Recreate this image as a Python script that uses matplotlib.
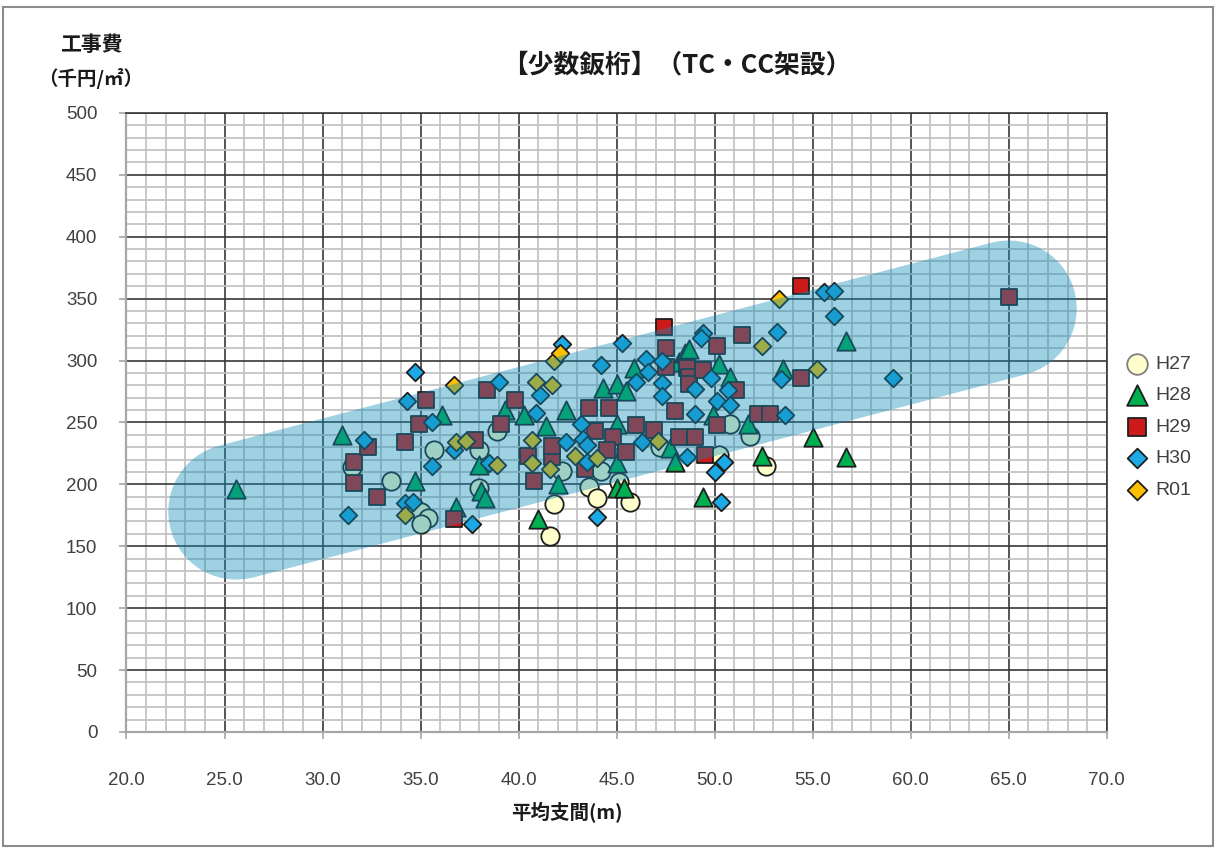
import matplotlib
matplotlib.use('Agg')
import matplotlib.pyplot as plt
from matplotlib.ticker import MultipleLocator, FormatStrFormatter
from matplotlib.patches import Rectangle
from matplotlib import font_manager

plt.rcParams['font.family'] = ['Noto Sans CJK JP', 'DejaVu Sans']

# ---------------- data ----------------
h27_x = [31.5, 33.5, 35.7, 35.0, 35.4, 35.0, 38.0, 38.9, 38.0, 41.8, 42.2, 43.6, 44.2,
         45.1, 41.6, 44.0, 45.7, 47.2, 50.2, 50.8, 51.8, 52.6]
h27_y = [214, 203, 228, 178, 173, 168, 228, 243, 197, 184, 211, 198, 211,
         202, 158, 189, 186, 230, 224, 249, 239, 215]

h28_x = [25.6, 31.0, 34.7, 36.1, 36.8, 38.0, 38.1, 38.3, 39.3, 40.3, 41.4, 42.4, 42.0,
         41.0, 44.3, 45.0, 45.5, 45.9, 45.0, 45.0, 45.0, 45.4, 47.7, 48.0, 48.2, 48.5,
         48.7, 50.2, 50.8, 49.9, 51.7, 52.4, 49.4, 53.5, 55.0, 56.7, 56.7]
h28_y = [196, 240, 203, 256, 182, 216, 195, 189, 260, 256, 247, 260, 200,
         172, 278, 281, 275, 294, 249, 217, 197, 197, 229, 218, 299, 306,
         309, 297, 287, 256, 249, 223, 190, 293, 238, 316, 222]

h29_x = [31.6, 31.6, 32.3, 32.8, 34.2, 34.9, 35.3, 36.7, 37.8, 38.4, 39.1, 39.8, 40.5,
         40.8, 41.7, 41.7, 43.4, 43.6, 44.6, 43.9, 44.8, 44.5, 45.5, 46.0, 46.9, 47.4,
         47.5, 47.5, 48.0, 48.2, 49.0, 48.6, 48.7, 48.7, 49.4, 50.1, 50.1, 49.5, 51.4,
         51.1, 52.2, 52.8, 54.4, 54.4, 65.0]
h29_y = [218, 201, 230, 190, 234, 249, 268, 172, 236, 276, 249, 268, 223,
         203, 222, 231, 212, 262, 262, 243, 238, 228, 226, 248, 244, 327,
         310, 295, 259, 238, 238, 294, 287, 281, 292, 312, 248, 224, 321,
         276, 257, 257, 360, 286, 351]

h30_x = [31.3, 32.1, 34.2, 34.6, 34.3, 34.7, 35.6, 35.6, 36.7, 37.6, 38.5, 39.0, 40.9,
         41.1, 42.2, 42.4, 43.2, 43.3, 43.5, 43.5, 44.0, 44.2, 45.3, 46.0, 46.3, 46.5,
         46.6, 47.3, 47.3, 47.3, 48.6, 49.0, 49.0, 49.4, 49.3, 49.8, 50.1, 50.7, 50.8,
         50.5, 50.0, 50.3, 53.2, 53.4, 53.6, 55.6, 56.1, 56.1, 59.1]
h30_y = [175, 236, 185, 186, 267, 291, 250, 215, 228, 168, 217, 283, 258,
         272, 313, 234, 249, 237, 232, 218, 174, 296, 314, 283, 234, 301,
         291, 300, 282, 271, 222, 277, 257, 322, 318, 286, 267, 276, 264,
         218, 210, 186, 323, 285, 256, 355, 356, 336, 286]

r01_x = [34.2, 36.7, 36.8, 37.3, 38.9, 40.7, 40.7, 40.9, 41.7, 41.6, 41.8, 42.1, 42.9,
         44.0, 47.1, 52.4, 53.3, 55.2]
r01_y = [175, 280, 234, 235, 216, 236, 217, 283, 280, 212, 300, 306, 223,
         221, 235, 312, 350, 293]

series_names = ['H27', 'H28', 'H29', 'H30', 'R01']

# highlighted band (centre line end points, data units)
band_x = [25.6, 65.0]
band_y = [178.0, 342.0]

# ---------------- styling ----------------
names = {f.name for f in font_manager.fontManager.ttflist}
tick_font = 'Liberation Sans Narrow' if 'Liberation Sans Narrow' in names else 'Liberation Sans'

fig = plt.figure(figsize=(12.21, 8.49), dpi=100)
ax = fig.add_axes([0.1036, 0.1379, 0.8028, 0.7291])

ax.set_xlim(20, 70)
ax.set_ylim(0, 500)
ax.xaxis.set_major_locator(MultipleLocator(5))
ax.xaxis.set_minor_locator(MultipleLocator(1))
ax.yaxis.set_major_locator(MultipleLocator(50))
ax.yaxis.set_minor_locator(MultipleLocator(10))
ax.xaxis.set_major_formatter(FormatStrFormatter('%.1f'))

ax.set_axisbelow(True)
ax.grid(which='minor', color='#C4C4C4', lw=1.3, zorder=0)
ax.grid(which='major', color='#383838', lw=1.2, zorder=0.5)

for s in ['left', 'bottom']:
    ax.spines[s].set_color('#A6A6A6')
    ax.spines[s].set_linewidth(1.6)
for s in ['top', 'right']:
    ax.spines[s].set_color('#383838')
    ax.spines[s].set_linewidth(1.2)

ax.tick_params(which='major', length=5, color='#A6A6A6', width=1.2,
               labelsize=13.5, labelcolor='#404040')
ax.tick_params(axis='x', which='major', pad=24)
ax.tick_params(axis='y', which='major', pad=16)
ax.tick_params(which='minor', length=0)
for lab in ax.get_xticklabels() + ax.get_yticklabels():
    lab.set_family(tick_font)

edge = '#1E1E1E'
lw = 1.3
ax.scatter(h27_x, h27_y, s=175, marker='o', facecolor='#FFFFCC', edgecolor=edge,
           linewidths=lw, zorder=3, label=series_names[0])
ax.scatter(h28_x, h28_y, s=175, marker='^', facecolor='#00B050', edgecolor=edge,
           linewidths=lw, zorder=3.1, label=series_names[1])
ax.scatter(h29_x, h29_y, s=135, marker='s', facecolor='#CC1A1A', edgecolor=edge,
           linewidths=lw, zorder=3.2, label=series_names[2])
ax.scatter(h30_x, h30_y, s=80, marker='D', facecolor='#1CAAE6', edgecolor=edge,
           linewidths=lw, zorder=3.3, label=series_names[3])
ax.scatter(r01_x, r01_y, s=80, marker='D', facecolor='#FFC000', edgecolor=edge,
           linewidths=lw, zorder=3.4, label=series_names[4])

# translucent band drawn over the markers
ax.plot(band_x, band_y, color='#0E8CB8', alpha=0.40, lw=98,
        solid_capstyle='round', zorder=4)

handles, labels = ax.get_legend_handles_labels()
leg = fig.legend(handles, labels, loc='center left', bbox_to_anchor=(0.923, 0.497),
                 frameon=False, fontsize=14, markerscale=1.12, handlelength=1.0,
                 handletextpad=0.45, labelspacing=0.72, borderpad=0, borderaxespad=0)
for t in leg.get_texts():
    t.set_color('#404040')
    t.set_family(tick_font)
leg.legend_handles[0].set_edgecolor('#7F7F7F')

fig.text(0.5545, 0.923, '【少数鈑桁】（TC・CC架設）', ha='center', va='center',
         fontsize=18.5, fontweight='bold', color='#1A1A1A')
fig.text(0.0745, 0.947, '工事費', ha='center', va='center', fontsize=15,
         fontweight='bold', color='#1A1A1A')
fig.text(0.0745, 0.908, '（千円/㎡）', ha='center', va='center', fontsize=14,
         fontweight='bold', color='#1A1A1A')
fig.text(0.4644, 0.0424, '平均支間(m)', ha='center', va='center', fontsize=14,
         fontweight='bold', color='#1A1A1A')

fig.patches.append(Rectangle((3 / 1221, 3 / 849), 1210 / 1221, 839 / 849,
                             transform=fig.transFigure, fill=False,
                             edgecolor='#8C8C8C', lw=1.5))

fig.savefig('out.png', dpi=100)
